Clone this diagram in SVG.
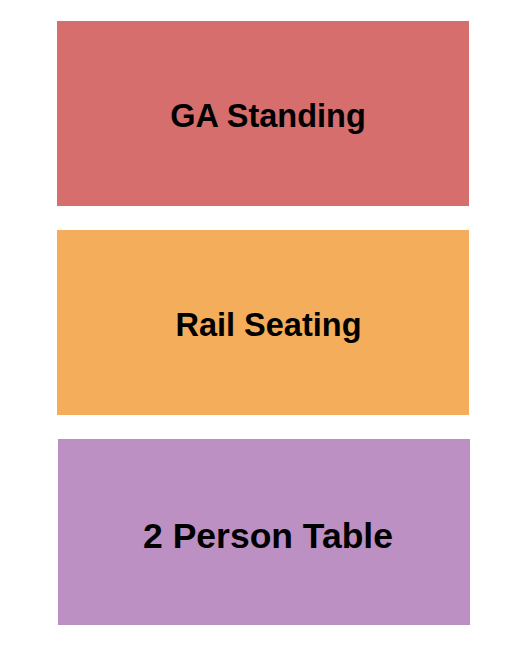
<svg xmlns="http://www.w3.org/2000/svg" width="525" height="650" viewBox="0 0 525 650">
<style>
.lbl{font-family:"Liberation Sans",Arial,sans-serif;font-weight:bold;fill:#000;text-anchor:middle}
</style>
<rect width="525" height="650" fill="#ffffff"/>
<g id="ga-standing">
<rect x="57" y="21" width="412" height="185" fill="#D76E6E"/>
<text class="lbl" x="268" y="127" font-size="32.5">GA Standing</text>
</g>
<g id="rail-seating">
<rect x="57" y="230" width="412" height="185" fill="#F4AD5A"/>
<text class="lbl" x="268.5" y="336" font-size="32.5">Rail Seating</text>
</g>
<g id="two-person-table">
<rect x="58" y="439" width="412" height="186" fill="#BC90C3"/>
<text class="lbl" x="268" y="548" font-size="35.5">2 Person Table</text>
</g>
<g id="connectors"/>
</svg>
